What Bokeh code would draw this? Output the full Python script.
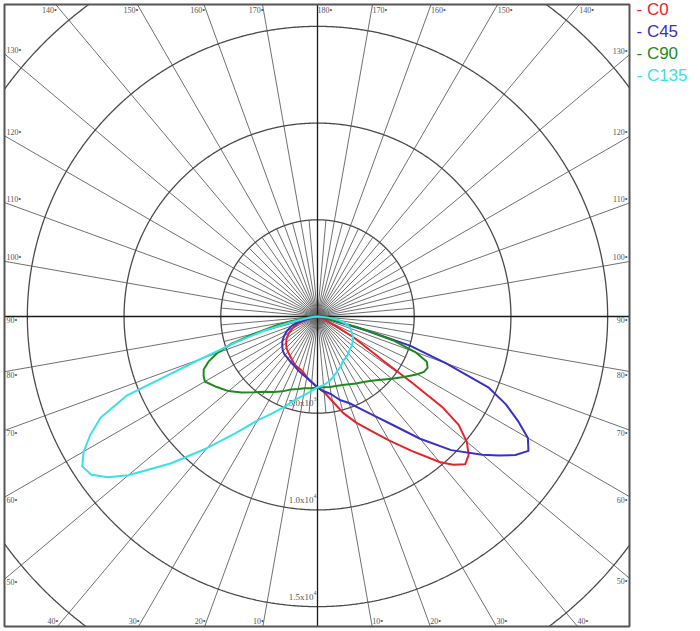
import numpy as np
from bokeh.plotting import figure
from bokeh.models import Range1d
from bokeh.embed import file_html
from bokeh.resources import INLINE
from bokeh.core.properties import value

# ---- data: gamma angle from nadir (deg) and luminous intensity (cd) ----
C0_gamma = [0, 5, 10, 15, 20, 25, 30, 35, 40, 42.5, 45, 47.5, 50, 52.5, 54, 55, 56, 57.5, 60, 62.5, 65, 70, 80, 90]
C0_cd = [3670, 3930, 4450, 5170, 5840, 6510, 7390, 8480, 9820, 10390, 10800, 10600, 10080, 9200, 8010, 5950, 4140, 3100, 2170, 1030, 410, 210, 100, 0]

C180_gamma = [0, 5, 10, 15, 20, 25, 30, 35, 40, 45, 50, 55, 60, 65, 70, 75, 80, 85, 90]
C180_cd = [3670, 3410, 3180, 2950, 2840, 2770, 2610, 2480, 2380, 2270, 2120, 1940, 1710, 1420, 1030, 570, 210, 50, 0]

C45_gamma = [0, 5, 10, 15, 20, 25, 30, 35, 40, 45, 50, 52.5, 55, 57.5, 60, 62.5, 65, 67.5, 70, 72.5, 74, 76, 80, 90]
C45_cd = [3670, 3880, 4080, 4470, 4760, 5270, 5950, 6880, 8250, 9770, 11120, 11810, 12490, 12930, 12560, 11680, 10750, 9560, 7080, 5010, 2590, 620, 210, 0]

C225_gamma = [0, 5, 10, 15, 20, 25, 30, 35, 40, 45, 50, 55, 60, 65, 70, 72.5, 75, 80, 85, 90]
C225_cd = [3670, 3410, 3210, 3080, 2950, 2820, 2740, 2660, 2610, 2530, 2380, 2220, 1990, 1730, 1420, 1140, 520, 160, 50, 0]

C90_gamma = [0, 5, 10, 15, 20, 25, 30, 35, 40, 45, 50, 55, 60, 62.5, 65, 67.5, 70, 72.5, 75, 77.5, 80, 85, 90]
C90_cd = [3670, 3670, 3700, 3720, 3770, 3860, 4000, 4140, 4340, 4630, 5000, 5450, 5970, 6200, 6280, 6120, 5380, 4080, 2170, 620, 260, 100, 0]

C270_gamma = [0, 5, 10, 15, 20, 25, 30, 35, 40, 45, 50, 55, 60, 62.5, 65, 67.5, 70, 72.5, 75, 77.5, 80, 85, 90]
C270_cd = [3670, 3720, 3770, 3880, 4010, 4270, 4500, 4750, 5120, 5560, 6000, 6360, 6720, 6640, 6490, 6100, 5510, 4650, 3310, 2220, 1400, 410, 0]

C135_gamma = [0, 5, 10, 15, 20, 25, 30, 35, 40, 45, 50, 55, 60, 65, 70, 75, 80, 85, 90]
C135_cd = [3670, 3570, 3410, 3210, 3000, 2840, 2640, 2590, 2480, 2380, 2330, 2220, 2120, 1960, 1810, 1600, 1140, 520, 0]

C315_gamma = [0, 5, 10, 15, 20, 25, 30, 35, 40, 45, 50, 52.5, 55, 57.5, 60, 62.5, 65, 67.5, 70, 72.5, 75, 77.5, 80, 85, 90]
C315_cd = [3670, 3880, 4140, 4450, 4960, 5530, 6200, 7340, 8890, 10750, 12770, 13650, 14270, 14420, 13960, 13240, 12360, 10650, 6460, 4400, 2900, 1450, 620, 160, 0]

series_names = ["C0", "C45", "C90", "C135"]
series_colors = ["#e8232a", "#3a30c8", "#1f8a1f", "#38e2e6"]
circle_values = [5000, 10000, 15000, 20000]
circle_labels = ["5.0x10", "1.0x10", "1.5x10"]
circle_exps = ["3", "4", "4"]
angle_step = 10
fine_step = 5
fine_radius = 5000

# ---- layout ----
S = 51.7  # cd per screen pixel
W, H = 695, 629
CX, CY = 317, 316  # centre position in canvas pixels
x_start = -CX * S
y_end = CY * S
BOX_L, BOX_R, BOX_T, BOX_B = -313 * S, 312 * S, 312 * S, -310 * S

p = figure(width=W, height=H, output_backend="svg", toolbar_location=None,
           x_range=Range1d(x_start, x_start + W * S), y_range=Range1d(y_end - H * S, y_end),
           x_axis_location=None, y_axis_location=None, min_border=0)
p.grid.visible = False
p.outline_line_color = None
p.background_fill_color = "white"
p.border_fill_color = "white"


def ray_end(theta, side):
    th = np.radians(theta)
    dx, dy = side * np.sin(th), -np.cos(th)
    ts = []
    if dx > 1e-9: ts.append(BOX_R / dx)
    if dx < -1e-9: ts.append(BOX_L / dx)
    if dy > 1e-9: ts.append(BOX_T / dy)
    if dy < -1e-9: ts.append(BOX_B / dy)
    t = min(ts)
    return dx * t, dy * t


# radial grid lines
xs, ys = [], []
for a in range(0, 360, angle_step):
    if a % 90 == 0:
        continue
    ex, ey = ray_end(a if a <= 180 else 360 - a, 1 if a <= 180 else -1)
    xs.append([0, ex]); ys.append([0, ey])
for a in range(0, 360, fine_step):
    if a % angle_step == 0:
        continue
    th = np.radians(a)
    xs.append([0, fine_radius * np.sin(th)]); ys.append([0, -fine_radius * np.cos(th)])
p.multi_line(xs, ys, line_color="#606060", line_width=0.9)

# circles
t = np.linspace(0, 2 * np.pi, 1441)
for r in circle_values:
    cx_ = r * np.cos(t); cy_ = r * np.sin(t)
    inside = (cx_ > BOX_L) & (cx_ < BOX_R) & (cy_ < BOX_T) & (cy_ > BOX_B)
    cx_ = np.where(inside, cx_, np.nan); cy_ = np.where(inside, cy_, np.nan)
    p.line(cx_, cy_, line_color="#4a4a4a", line_width=1.3)

# main axes through centre
p.segment(x0=[BOX_L, 0], y0=[0, BOX_B], x1=[BOX_R, 0], y1=[0, BOX_T], line_color="#1a1a1a", line_width=1.3)

# box
p.quad(left=[BOX_L], right=[BOX_R], top=[BOX_T], bottom=[BOX_B], fill_color=None,
       line_color="#555555", line_width=2)

# angle labels
lab_font = value("Liberation Serif")
for side in (-1, 1):
    for a in range(angle_step, 181, angle_step):
        if a == 180 and side == -1:
            continue
        ex, ey = ray_end(a, side)
        txt = f"{a}\u2022"
        kw = dict(text_font=lab_font, text_font_size="8px", text_color="#555555")
        if abs(ey - BOX_T) < 1:
            align = "right" if (side == -1) else "left"
            p.text(x=[ex], y=[BOX_T], text=[txt], text_align=align, text_baseline="top",
                   x_offset=1 if side == -1 else 0, y_offset=1, **kw)
        elif abs(ey - BOX_B) < 1:
            align = "right" if side == -1 else "left"
            p.text(x=[ex], y=[BOX_B], text=[txt], text_align=align, text_baseline="bottom",
                   x_offset=1 if side == -1 else 0, y_offset=-1, **kw)
        else:
            xx = BOX_L if side == -1 else BOX_R
            align = "left" if side == -1 else "right"
            base = "bottom" if a >= 100 else "top"
            p.text(x=[xx], y=[ey], text=[txt], text_align=align, text_baseline=base,
                   x_offset=2 if side == -1 else -2, y_offset=1 if a >= 100 else -1, **kw)

# circle value labels
for r, lab, ex in zip(circle_values, circle_labels, circle_exps):
    p.text(x=[0], y=[-r], text=[lab], text_align="right", text_baseline="bottom",
           x_offset=-4, y_offset=-5, text_font=lab_font, text_font_size="9px", text_color="#555555")
    p.text(x=[0], y=[-r], text=[ex], text_align="left", text_baseline="bottom",
           x_offset=-4, y_offset=-12, text_font=lab_font, text_font_size="6px", text_color="#555555")


# photometric curves
def curve(g_right, i_right, g_left, i_left):
    gr = np.radians(np.array(g_right, float)); ir = np.array(i_right, float)
    gl = np.radians(np.array(g_left, float)); il = np.array(i_left, float)
    xl = -il * np.sin(gl); yl = -il * np.cos(gl)
    xr = ir * np.sin(gr); yr = -ir * np.cos(gr)
    return np.concatenate([xl[::-1], xr]), np.concatenate([yl[::-1], yr])


pairs = [(C0_gamma, C0_cd, C180_gamma, C180_cd),
         (C45_gamma, C45_cd, C225_gamma, C225_cd),
         (C90_gamma, C90_cd, C270_gamma, C270_cd),
         (C135_gamma, C135_cd, C315_gamma, C315_cd)]
for (gr, ir, gl, il), col in zip(pairs, series_colors):
    x, y = curve(gr, ir, gl, il)
    p.line(x, y, line_color=col, line_width=2, line_join="round")

# legend as coloured text to the right of the box
leg_x = (636 - CX) * S
for k, (name, col) in enumerate(zip(series_names, series_colors)):
    yy = (CY - (9 + 22 * k)) * S
    p.text(x=[leg_x], y=[yy], text=[f"- {name}"], text_align="left", text_baseline="middle",
           text_font=value("Liberation Sans"), text_font_size="17px", text_color=col)

open("out.html", "w").write(file_html(p, INLINE))
